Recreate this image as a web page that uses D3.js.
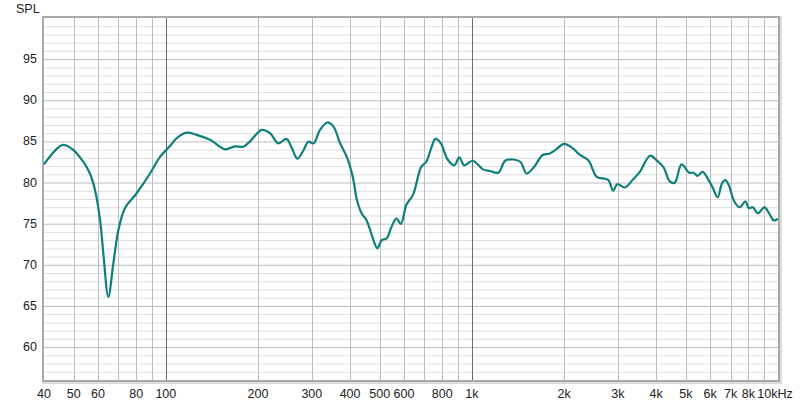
<!DOCTYPE html>
<html><head><meta charset="utf-8">
<script src="https://cdn.jsdelivr.net/npm/d3@7"></script>
<style>body{margin:0;background:#fff}svg{display:block}text{font-family:"Liberation Sans",Arial,sans-serif;font-size:12.5px;fill:#222}</style>
</head><body><svg id="c" width="800" height="404"></svg>
<script>
const freqs = [40,46,49.9,53.8,56.5,58.7,61,62.5,64.9,67.4,70,73.6,80.3,88.8,95.6,103,108.6,117,126,139.5,156,168,179,188,206,219,233,248,258,269,282,292,304,319,337,353,371,390,408,421,436,453,471,491,507,526,546,567,586,611,642,683,709,736,760,792,812,833,876,910,944,1006,1087,1145,1220,1284,1369,1441,1509,1596,1702,1791,1885,2000,2117,2256,2400,2557,2687,2791,2896,2984,3160,3364,3536,3820,4016,4220,4440,4600,4841,5130,5300,5463,5672,5932,6133,6350,6562,6730,6902,7200,7500,7830,8030,8272,8588,9036,9336,9692,10000];
const spl = [82.2,84.56,83.95,82.5,81.1,79.1,75.4,71.4,66.1,70.2,74.2,76.9,78.7,81.1,83.1,84.4,85.4,86.06,85.8,85.2,84.04,84.4,84.36,84.97,86.4,86.0,84.77,85.3,84.2,82.9,83.96,84.97,84.77,86.4,87.3,86.8,84.77,83.14,80.7,77.9,76.26,75.4,73.6,72.0,73.0,73.2,74.6,75.65,74.96,77.3,78.5,81.9,82.5,84.16,85.3,84.77,83.75,82.8,82.1,83.07,82.1,82.65,81.6,81.4,81.2,82.65,82.8,82.5,81.1,81.9,83.35,83.5,84.04,84.7,84.28,83.35,82.7,80.7,80.5,80.3,79.0,79.8,79.4,80.4,81.3,83.26,82.7,81.9,80.1,79.98,82.2,81.2,81.2,80.8,81.3,80.3,79.3,78.2,79.9,80.3,79.7,77.7,77.0,77.7,76.9,77.0,76.26,77.0,76.3,75.4,75.6];
const xTickVals = [40,50,60,80,100,200,300,400,500,600,800,1000,2000,3000,4000,5000,6000,7000,8000,10000];
const xTickLabels = ["40","50","60","80","100","200","300","400","500","600","800","1k","2k","3k","4k","5k","6k","7k","8k","10kHz"];
const xGrid = [50,60,70,80,90,200,300,400,500,600,700,800,900,2000,3000,4000,5000,6000,7000,8000,9000];
const xDark = [100,1000];
const yTicks = [60,65,70,75,80,85,90,95];

const L=44,R=778,T=18,B=380;
const svg=d3.select("#c");
const x=d3.scaleLog().domain([40,10000]).range([L,R]);
const y=d3.scaleLinear().domain([56,100]).range([B,T]);

svg.append("g").selectAll("line").data(d3.range(57,100)).join("line")
  .attr("x1",L).attr("x2",R).attr("y1",d=>y(d)+0.5).attr("y2",d=>y(d)+0.5)
  .attr("stroke",d=>d%5===0?"#bdbdbd":"#dedede").attr("stroke-width",1);
svg.append("g").selectAll("line").data(xGrid).join("line")
  .attr("y1",T).attr("y2",B).attr("x1",d=>Math.round(x(d))+0.5).attr("x2",d=>Math.round(x(d))+0.5)
  .attr("stroke","#bdbdbd");
svg.append("g").selectAll("line").data(xDark).join("line")
  .attr("y1",T).attr("y2",B).attr("x1",d=>Math.round(x(d))+0.5).attr("x2",d=>Math.round(x(d))+0.5)
  .attr("stroke","#6a6a6a");

svg.append("rect").attr("x",L-1).attr("y",T-1).attr("width",R-L+4).attr("height",B-T+4)
  .attr("fill","none").attr("stroke","#dcdcdc").attr("stroke-width",2);
svg.append("rect").attr("x",L-1).attr("y",T-1).attr("width",R-L+2).attr("height",B-T+2)
  .attr("fill","none").attr("stroke","#a9a9a9").attr("stroke-width",2);

const line=d3.line().x((d,i)=>x(freqs[i])).y(d=>y(d)).curve(d3.curveCatmullRom.alpha(0.5));
svg.append("path").datum(spl).attr("d",line).attr("fill","none")
  .attr("stroke","#0f7f7c").attr("stroke-width",2.2).attr("stroke-linejoin","round");

svg.append("g").selectAll("text").data(yTicks).join("text")
  .attr("x",37).attr("y",d=>y(d)+4).attr("text-anchor","end").text(d=>d);
svg.append("text").attr("x",16).attr("y",13).text("SPL");
svg.append("g").selectAll("text").data(xTickVals).join("text")
  .attr("x",(d,i)=>i===xTickVals.length-1?x(d)-3:x(d)).attr("y",398)
  .attr("text-anchor","middle").text((d,i)=>xTickLabels[i]);
</script></body></html>
